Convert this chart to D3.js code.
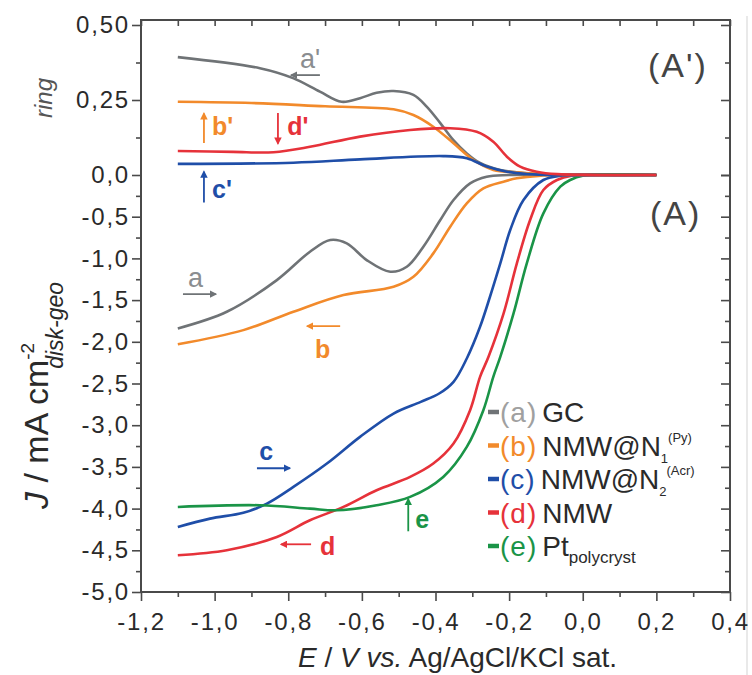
<!DOCTYPE html>
<html>
<head>
<meta charset="utf-8">
<script src="https://cdn.jsdelivr.net/npm/d3@7"></script>
<style>
  body { margin: 0; background: #fff; }
  svg { display: block; font-family: "Liberation Sans", Arial, sans-serif; }
</style>
</head>
<body>
<div id="chart"></div>
<script>
// axis ticks
const eTicks = [-1.2, -1.0, -0.8, -0.6, -0.4, -0.2, 0.0, 0.2, 0.4];
const eMinor = [-1.1, -0.9, -0.7, -0.5, -0.3, -0.1, 0.1, 0.3];
const diskTicks = [0, -0.5, -1, -1.5, -2, -2.5, -3, -3.5, -4, -4.5, -5];
const diskMinor = [-0.25, -0.75, -1.25, -1.75, -2.25, -2.75, -3.25, -3.75, -4.25, -4.75];
const ringTicks = [0.25, 0.5];
const ringMinor = [0.125, 0.375];

// ring currents (A'), [E, J]
const ringGC = [[-1.10, 0.393], [-0.877, 0.356], [-0.787, 0.323], [-0.714, 0.278], [-0.655, 0.244],
  [-0.605, 0.256], [-0.560, 0.274], [-0.514, 0.280], [-0.460, 0.267], [-0.424, 0.228], [-0.387, 0.173],
  [-0.352, 0.117], [-0.315, 0.072], [-0.279, 0.040], [-0.224, 0.017], [-0.116, 0.003], [-0.007, 0], [0.2, 0]];
const ringPy = [[-1.10, 0.244], [-0.90, 0.240], [-0.70, 0.229], [-0.514, 0.219], [-0.460, 0.200],
  [-0.406, 0.161], [-0.351, 0.106], [-0.297, 0.050], [-0.243, 0.017], [-0.170, 0.008], [-0.100, 0.002], [0.2, 0]];
const ringAcr = [[-1.10, 0.037], [-0.786, 0.041], [-0.605, 0.052], [-0.379, 0.063], [-0.315, 0.056],
  [-0.261, 0.028], [-0.206, 0.011], [-0.150, 0.003], [0.2, 0]];
const ringNMW = [[-1.10, 0.080], [-0.95, 0.077], [-0.84, 0.076], [-0.741, 0.094], [-0.605, 0.128],
  [-0.469, 0.150], [-0.360, 0.156], [-0.288, 0.144], [-0.243, 0.111], [-0.206, 0.061], [-0.170, 0.028],
  [-0.125, 0.011], [-0.070, 0.003], [0.2, 0]];

// disk currents (A), [E, J]
const diskGC = [[-1.10, -1.84], [-0.967, -1.64], [-0.831, -1.26], [-0.741, -0.92], [-0.686, -0.78],
  [-0.641, -0.82], [-0.587, -1.02], [-0.523, -1.16], [-0.478, -1.10], [-0.433, -0.86], [-0.387, -0.54],
  [-0.351, -0.30], [-0.306, -0.10], [-0.261, -0.02], [-0.20, 0], [0.2, 0]];
const diskPy = [[-1.10, -2.03], [-0.922, -1.86], [-0.786, -1.64], [-0.650, -1.44], [-0.514, -1.34],
  [-0.460, -1.22], [-0.406, -0.94], [-0.360, -0.62], [-0.315, -0.34], [-0.270, -0.16], [-0.215, -0.08],
  [-0.179, -0.04], [-0.12, -0.01], [0.2, 0]];
const diskAcr = [[-1.10, -4.22], [-1.0125, -4.12], [-0.922, -4.05], [-0.858, -3.94], [-0.786, -3.74],
  [-0.695, -3.46], [-0.605, -3.14], [-0.514, -2.86], [-0.440, -2.72], [-0.390, -2.62], [-0.351, -2.48],
  [-0.315, -2.20], [-0.279, -1.82], [-0.252, -1.46], [-0.224, -1.06], [-0.197, -0.66], [-0.161, -0.30],
  [-0.107, -0.06], [-0.06, -0.01], [0.2, 0]];
const diskNMW = [[-1.10, -4.56], [-0.967, -4.50], [-0.831, -4.34], [-0.741, -4.14], [-0.650, -3.98],
  [-0.560, -3.78], [-0.469, -3.62], [-0.406, -3.46], [-0.351, -3.22], [-0.306, -2.82], [-0.279, -2.42],
  [-0.256, -2.18], [-0.215, -1.66], [-0.179, -1.06], [-0.143, -0.54], [-0.107, -0.18], [-0.070, -0.06],
  [-0.03, -0.01], [0.2, 0]];
const diskPt = [[-1.10, -3.98], [-0.877, -3.96], [-0.741, -4.00], [-0.668, -4.02], [-0.560, -3.96],
  [-0.469, -3.86], [-0.379, -3.62], [-0.315, -3.26], [-0.270, -2.82], [-0.243, -2.42], [-0.224, -2.18],
  [-0.188, -1.66], [-0.152, -1.06], [-0.107, -0.46], [-0.061, -0.14], [-0.034, -0.06], [0.0, -0.01], [0.2, 0]];

// legend
const legendKeys = ['(a)', '(b)', '(c)', '(d)', '(e)'];
const legendNames = ['GC', 'NMW@N', 'NMW@N', 'NMW', 'Pt'];
const legendSub = ['', '1', '2', '', 'polycryst'];
const legendSup = ['', '(Py)', '(Acr)', '', ''];
const colors = ['#6f7376', '#f28a2b', '#1f4ea8', '#e6323a', '#1a9447'];
const keyColors = ['#a0a0a0', '#f28a2b', '#1f4ea8', '#e6323a', '#1a9447'];

const margin = {top: 20, right: 22, bottom: 83, left: 141};
const width = 752 - margin.left - margin.right;
const height = 675 - margin.top - margin.bottom;

const svg = d3.select('#chart').append('svg')
  .attr('width', 752)
  .attr('height', 675);

// faint border of the neighbouring panel
svg.append('line')
  .attr('x1', 747).attr('x2', 747).attr('y1', 16).attr('y2', 675)
  .attr('stroke', '#e2e2e2').attr('stroke-width', 1.5);

const g = svg.append('g')
  .attr('transform', `translate(${margin.left},${margin.top})`);

const x = d3.scaleLinear().domain([-1.2, 0.4]).range([0, width]);
const yDisk = d3.scaleLinear().domain([-5, 0]).range([height, 155]);
const yRing = d3.scaleLinear().domain([0, 0.5]).range([155, 5]);

const comma = f => d => d3.format(f)(d).replace('.', ',').replace('\u2212', '-');
const axisColor = '#4a4a4a';

function styleAxis(sel) {
  sel.select('.domain').remove();
  sel.selectAll('line').attr('stroke', axisColor).attr('stroke-width', 1.6);
  sel.selectAll('text')
    .attr('fill', '#2a2a2a')
    .style('font-size', '24px')
    .style('letter-spacing', '1.8px');
}

// left axis
g.append('g').call(d3.axisLeft(yDisk).tickValues(diskTicks).tickFormat(comma('.1f')).tickSize(9).tickPadding(2)).call(styleAxis);
g.append('g').call(d3.axisLeft(yDisk).tickValues(diskMinor).tickFormat('').tickSize(5)).call(styleAxis);
g.append('g').call(d3.axisLeft(yRing).tickValues(ringTicks).tickFormat(comma('.2f')).tickSize(9).tickPadding(2)).call(styleAxis);
g.append('g').call(d3.axisLeft(yRing).tickValues(ringMinor).tickFormat('').tickSize(5)).call(styleAxis);

// right axis (inward)
g.append('g').attr('transform', `translate(${width},0)`)
  .call(d3.axisRight(yDisk).tickValues(diskTicks).tickFormat('').tickSize(-9)).call(styleAxis);
g.append('g').attr('transform', `translate(${width},0)`)
  .call(d3.axisRight(yDisk).tickValues(diskMinor).tickFormat('').tickSize(-5)).call(styleAxis);
g.append('g').attr('transform', `translate(${width},0)`)
  .call(d3.axisRight(yRing).tickValues(ringTicks.concat([0])).tickFormat('').tickSize(-9)).call(styleAxis);
g.append('g').attr('transform', `translate(${width},0)`)
  .call(d3.axisRight(yRing).tickValues(ringMinor).tickFormat('').tickSize(-5)).call(styleAxis);

// bottom axis
g.append('g').attr('transform', `translate(0,${height})`)
  .call(d3.axisBottom(x).tickValues(eTicks).tickFormat(comma('.1f')).tickSize(9).tickPadding(12)).call(styleAxis);
g.append('g').attr('transform', `translate(0,${height})`)
  .call(d3.axisBottom(x).tickValues(eMinor).tickFormat('').tickSize(5)).call(styleAxis);

// top axis (inward)
g.append('g')
  .call(d3.axisTop(x).tickValues(eTicks.concat(eMinor)).tickFormat('').tickSize(-6)).call(styleAxis);

// frame
g.append('rect')
  .attr('width', width).attr('height', height)
  .attr('fill', 'none').attr('stroke', axisColor).attr('stroke-width', 2);

// curves
const curve = d3.curveCatmullRom.alpha(0.5);
const diskLine = d3.line().x(d => x(d[0])).y(d => yDisk(d[1])).curve(curve);
const ringLine = d3.line().x(d => x(d[0])).y(d => yRing(d[1])).curve(curve);

const diskSeries = [diskGC, diskPy, diskAcr, diskNMW, diskPt];
const ringSeries = [ringGC, ringPy, ringAcr, ringNMW];
const ringColor = [0, 1, 2, 3];

g.selectAll('.disk').data(diskSeries).enter().append('path')
  .attr('class', 'disk')
  .attr('d', diskLine)
  .attr('fill', 'none')
  .attr('stroke', (d, i) => colors[i])
  .attr('stroke-width', 2.6);

g.selectAll('.ring').data(ringSeries).enter().append('path')
  .attr('class', 'ring')
  .attr('d', ringLine)
  .attr('fill', 'none')
  .attr('stroke', (d, i) => colors[ringColor[i]])
  .attr('stroke-width', 2.6);

// arrow markers
const defs = svg.append('defs');
colors.forEach((c, i) => {
  defs.append('marker')
    .attr('id', 'arr' + i)
    .attr('viewBox', '0 0 10 10')
    .attr('refX', 8).attr('refY', 5)
    .attr('markerWidth', 4.2).attr('markerHeight', 4.2)
    .attr('orient', 'auto')
    .append('path').attr('d', 'M0,0L10,5L0,10z').attr('fill', c);
});

// annotations: label, series, bold, scale, text pos, arrow from, arrow to
const notes = [
  {t: "a'", s: 0, b: false, sc: 'ring', at: [-0.768, 0.357], from: [-0.714, 0.333], to: [-0.792, 0.333]},
  {t: "b'", s: 1, b: true, sc: 'ring', at: [-1.007, 0.133], from: [-1.029, 0.107], to: [-1.029, 0.205]},
  {t: "d'", s: 3, b: true, sc: 'ring', at: [-0.803, 0.133], from: [-0.828, 0.207], to: [-0.828, 0.105]},
  {t: "c'", s: 2, b: true, sc: 'disk', at: [-1.007, -0.276], from: [-1.029, -0.33], to: [-1.029, 0.04]},
  {t: 'a', s: 0, b: false, sc: 'disk', at: [-1.072, -1.344], from: [-1.086, -1.428], to: [-0.997, -1.428]},
  {t: 'b', s: 1, b: true, sc: 'disk', at: [-0.727, -2.196], from: [-0.659, -1.812], to: [-0.748, -1.812]},
  {t: 'c', s: 2, b: true, sc: 'disk', at: [-0.879, -3.42], from: [-0.885, -3.516], to: [-0.796, -3.516]},
  {t: 'd', s: 3, b: true, sc: 'disk', at: [-0.714, -4.56], from: [-0.738, -4.428], to: [-0.819, -4.428]},
  {t: 'e', s: 4, b: true, sc: 'disk', at: [-0.455, -4.236], from: [-0.474, -4.272], to: [-0.474, -3.886]}
];
const yOf = (sc, v) => sc === 'ring' ? yRing(v) : yDisk(v);

notes.forEach(n => {
  g.append('line')
    .attr('x1', x(n.from[0])).attr('y1', yOf(n.sc, n.from[1]))
    .attr('x2', x(n.to[0])).attr('y2', yOf(n.sc, n.to[1]))
    .attr('stroke', colors[n.s]).attr('stroke-width', 1.8)
    .attr('marker-end', `url(#arr${n.s})`);
  g.append('text')
    .attr('x', x(n.at[0])).attr('y', yOf(n.sc, n.at[1]))
    .attr('fill', n.s === 0 ? '#8a8d90' : colors[n.s])
    .style('font-size', n.b ? '25px' : '27px')
    .style('font-weight', n.b ? 'bold' : 'normal')
    .text(n.t);
});

// panel labels
g.append('text').attr('x', 507).attr('y', 57).attr('fill', '#444')
  .style('font-size', '34px').style('letter-spacing', '2px').text("(A')");
g.append('text').attr('x', 509).attr('y', 205).attr('fill', '#444')
  .style('font-size', '34px').style('letter-spacing', '2px').text('(A)');

// legend
const legend = g.append('g').attr('transform', 'translate(347,402)');
legendKeys.forEach((k, i) => {
  const row = legend.append('g').attr('transform', `translate(0,${i * 33.5})`);
  row.append('line')
    .attr('x1', 0).attr('x2', 11).attr('y1', -10).attr('y2', -10)
    .attr('stroke', colors[i]).attr('stroke-width', 4.5);
  const t = row.append('text').attr('x', 12).style('font-size', '28px');
  t.append('tspan').attr('fill', keyColors[i]).style('letter-spacing', '1px').text(k);
  t.append('tspan').attr('fill', '#2a2a2a').attr('dx', 5).text(legendNames[i]);
  if (legendSub[i]) {
    t.append('tspan').attr('fill', '#2a2a2a').attr('dy', 7)
      .style('font-size', legendSup[i] ? '13px' : '17px').text(legendSub[i]);
  }
  if (legendSup[i]) {
    t.append('tspan').attr('fill', '#2a2a2a').attr('dy', -21)
      .style('font-size', '13px').text(legendSup[i]);
  }
});

// axis titles
const xt = svg.append('text').attr('x', 298).attr('y', 667)
  .attr('fill', '#2a2a2a').style('font-size', '28px');
xt.append('tspan').style('font-style', 'italic').text('E');
xt.append('tspan').text(' / ');
xt.append('tspan').style('font-style', 'italic').text('V vs.');
xt.append('tspan').text(' Ag/AgCl/KCl sat.');

const yt = svg.append('text').attr('transform', 'translate(48,509) rotate(-90)')
  .attr('fill', '#2a2a2a').style('font-size', '34px');
yt.append('tspan').style('font-style', 'italic').text('J');
yt.append('tspan').text(' / mA cm');
yt.append('tspan').attr('dy', -14).style('font-size', '19px').text('-2');
yt.append('tspan').attr('dy', 29).attr('dx', -26).style('font-size', '23px').style('font-style', 'italic').text('disk-geo');

svg.append('text').attr('transform', 'translate(52,98) rotate(-90)')
  .attr('text-anchor', 'middle')
  .attr('fill', '#555').style('font-size', '24px').style('font-style', 'italic')
  .text('ring');
</script>
</body>
</html>
